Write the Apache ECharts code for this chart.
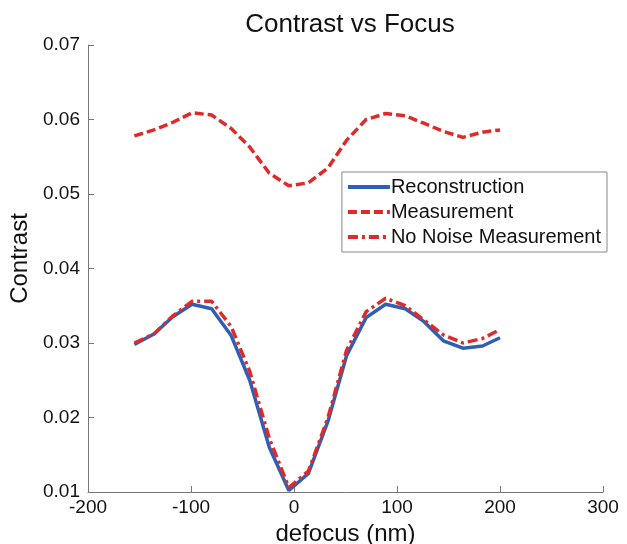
<!DOCTYPE html>
<html>
<head>
<meta charset="utf-8">
<script src="https://cdn.jsdelivr.net/npm/echarts@6/dist/echarts.min.js"></script>
<style>
  html, body { margin: 0; padding: 0; background: #fff; }
  #chart { width: 627px; height: 544px; }
</style>
</head>
<body>
<div id="chart"></div>
<script>
// defocus positions (nm)
const defocus = [-155, -136, -118, -99, -80, -61, -43, -24, -5, 14, 33, 51, 70, 89, 108, 126, 145, 164, 183, 200];
// contrast values
const reconstruction = [0.0298, 0.0312, 0.0335, 0.0352, 0.0346, 0.0310, 0.0250, 0.0160, 0.0102, 0.0125, 0.0195, 0.0283, 0.0334, 0.0352, 0.0346, 0.0329, 0.0303, 0.0293, 0.0296, 0.0307];
const measurement = [0.0578, 0.0586, 0.0596, 0.0609, 0.0606, 0.0588, 0.0563, 0.0528, 0.0511, 0.0515, 0.0535, 0.0572, 0.0600, 0.0608, 0.0605, 0.0595, 0.0584, 0.0576, 0.0583, 0.0586];
const noNoise = [0.0300, 0.0312, 0.0336, 0.0356, 0.0356, 0.0322, 0.0262, 0.0172, 0.0106, 0.0128, 0.0200, 0.0290, 0.0342, 0.0360, 0.0350, 0.0331, 0.0311, 0.0300, 0.0306, 0.0318];
const xTicks = [-200, -100, 0, 100, 200, 300];
const yTicks = [0.01, 0.02, 0.03, 0.04, 0.05, 0.06, 0.07];

const chart = echarts.init(document.getElementById('chart'));
const pair = (ys) => defocus.map((x, i) => [x, ys[i]]);
const font = 'Liberation Sans, Arial, sans-serif';

chart.setOption({
  animation: false,
  title: {
    text: 'Contrast vs Focus',
    left: 345,
    textAlign: 'center',
    top: 7,
    textStyle: { fontFamily: font, fontSize: 26, fontWeight: 'normal', color: '#111' }
  },
  legend: {
    right: 20,
    top: 172,
    orient: 'vertical',
    itemWidth: 42,
    itemHeight: 14,
    itemGap: 5,
    padding: [5, 6, 5, 4],
    borderColor: '#888',
    borderWidth: 1,
    backgroundColor: '#fff',
    itemStyle: { opacity: 0 },
    lineStyle: { width: 4 },
    textStyle: { fontFamily: font, fontSize: 20, color: '#111', padding: [0, 0, 0, -4] },
    data: ['Reconstruction', 'Measurement', 'No Noise Measurement']
  },
  grid: { left: 88, right: 24, top: 45, bottom: 52, outerBoundsMode: 'none' },
  xAxis: {
    type: 'value',
    min: xTicks[0],
    max: xTicks[xTicks.length - 1],
    interval: 100,
    name: 'defocus (nm)',
    nameLocation: 'middle',
    nameGap: 21,
    nameTextStyle: { fontFamily: font, fontSize: 24, color: '#111' },
    axisLine: { onZero: false, lineStyle: { color: '#777' } },
    axisTick: { inside: true, length: 6, lineStyle: { color: '#777' } },
    axisLabel: { fontFamily: font, fontSize: 19, color: '#111', margin: 6 },
    splitLine: { show: false }
  },
  yAxis: {
    type: 'value',
    min: yTicks[0],
    max: yTicks[yTicks.length - 1],
    interval: 0.01,
    name: 'Contrast',
    nameLocation: 'middle',
    nameGap: 7,
    nameTextStyle: { fontFamily: font, fontSize: 24, color: '#111', padding: [0, 0, 0, 20] },
    axisLine: { show: true, onZero: false, lineStyle: { color: '#777' } },
    axisTick: { show: true, inside: true, length: 6, lineStyle: { color: '#777' } },
    axisLabel: { fontFamily: font, fontSize: 19, color: '#111', margin: 8, formatter: (v) => v.toFixed(2) },
    splitLine: { show: false }
  },
  series: [
    {
      name: 'Reconstruction',
      type: 'line',
      data: pair(reconstruction),
      symbol: 'none',
      itemStyle: { color: '#2f5fb5' },
      lineStyle: { color: '#2f5fb5', width: 3.5 },
      z: 2
    },
    {
      name: 'Measurement',
      type: 'line',
      data: pair(measurement),
      symbol: 'none',
      itemStyle: { color: '#e02a2a' },
      lineStyle: { color: '#e02a2a', width: 3.5, type: [9, 4] },
      z: 3
    },
    {
      name: 'No Noise Measurement',
      type: 'line',
      data: pair(noNoise),
      symbol: 'none',
      itemStyle: { color: '#e02a2a' },
      lineStyle: { color: '#e02a2a', width: 3.5, type: [10, 4, 3, 4] },
      z: 3
    }
  ]
});
</script>
</body>
</html>
